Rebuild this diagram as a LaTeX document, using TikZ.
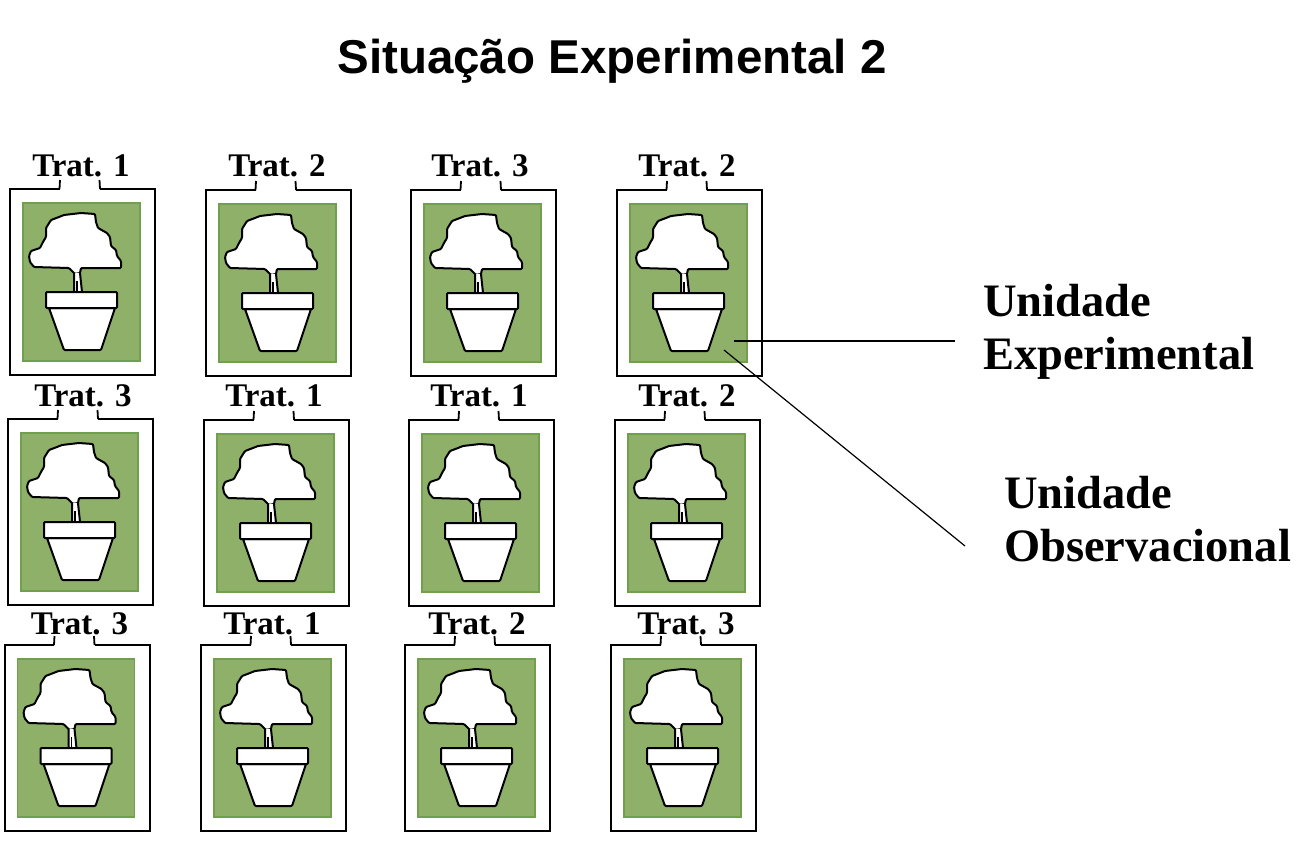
\documentclass[tikz,border=0pt]{standalone}
\usepackage{fontspec}
\setmainfont{Liberation Serif}
\newfontfamily\titlefont{Liberation Sans}
\definecolor{leafgreen}{RGB}{143,176,105}
\definecolor{edgegreen}{RGB}{112,160,78}
\tikzset{
  outerbox/.style={draw=black,line width=2pt,fill=white,line join=miter},
  greenbox/.style={fill=leafgreen,draw=edgegreen,line width=1.4pt},
  plantline/.style={draw=black,line width=2pt,fill=white,line join=round,rounded corners=1pt},
  tratlabel/.style={font=\bfseries\fontsize{33}{33}\selectfont,inner sep=0pt,text=black},
  bigtext/.style={font=\bfseries\fontsize{46.5}{50}\selectfont,inner sep=0pt,anchor=base west},
  leader/.style={draw=black,line width=1.6pt}
}
\newcommand{\plantbox}[6]{%
  \begin{scope}[shift={(#2,#3)}]
    \draw[outerbox] (49.5,0) -- (0,0) -- (0,185.5) -- (145,185.5) -- (145,0) -- (90,0);
    \draw[draw=black,line width=1.8pt] (49.5,0) -- (50,-9);
    \draw[draw=black,line width=1.8pt] (90,0) -- (89.5,-9);
    \path[greenbox] (13,14) rectangle (130,172);
    \draw[plantline]
      (19,67) -- (21,62) -- (30,59) -- (33,53) -- (36,48) -- (36,39) -- (41,31) -- (49,28)
      -- (54,26) -- (71,24) -- (85,25) -- (86,33) -- (88,39) -- (97,44) -- (100,48) -- (101,57)
      -- (106,61) -- (107,67) -- (111,72) -- (111,79) -- (71,79) -- (70,84) -- (65,85) -- (59,79)
      -- (24,78) -- (20,73) -- cycle;
    \draw[plantline] (64,84) -- (64,103) -- (72,103) -- (70,84);
    \draw[draw=black,line width=1.2pt] (67,92) -- (67,104);
    \draw[plantline] (39,119) -- (54,161) -- (91,161) -- (105,119) -- cycle;
    \draw[plantline] (36,103) rectangle (107,119);
    \node[tratlabel] (#1) at (#4,#6) {Trat. #5};
  \end{scope}}
\begin{document}
\begin{tikzpicture}[x=1pt,y=-1pt]
  \useasboundingbox (0,0) rectangle (1304,843);
  \fill[white] (0,0) rectangle (1304,843);
  \node[inner sep=0pt,font=\titlefont\bfseries\fontsize{47.5}{47.5}\selectfont] (title) at (612,61) {Situação Experimental 2};
  \plantbox{a1}{10}{189}{71}{1}{-23}
  \plantbox{a2}{206}{190}{71}{2}{-24}
  \plantbox{a3}{411}{190}{69}{3}{-24}
  \plantbox{a4}{617}{190}{70}{2}{-24}
  \plantbox{b1}{8}{419}{75}{3}{-23}
  \plantbox{b2}{204}{420}{70}{1}{-24}
  \plantbox{b3}{409}{420}{70}{1}{-24}
  \plantbox{b4}{615}{420}{72}{2}{-24}
  \plantbox{c1}{4.5}{645}{75}{3}{-21}
  \plantbox{c2}{201}{645}{71}{1}{-21}
  \plantbox{c3}{405}{645}{72}{2}{-21}
  \plantbox{c4}{611}{645}{75}{3}{-21}
  \node[bigtext] (ue1) at (983,316) {Unidade};
  \node[bigtext] (ue2) at (983,369) {Experimental};
  \node[bigtext] (uo1) at (1004,508) {Unidade};
  \node[bigtext] (uo2) at (1004,561) {Observacional};
  \coordinate (pe) at (734,341);
  \coordinate (pe2) at (955,341);
  \coordinate (po) at (724,350);
  \coordinate (po2) at (965,546);
  \draw[leader] (pe) -- (pe2);
  \draw[leader,line width=1.2pt] (po) -- (po2);
\end{tikzpicture}
\end{document}
